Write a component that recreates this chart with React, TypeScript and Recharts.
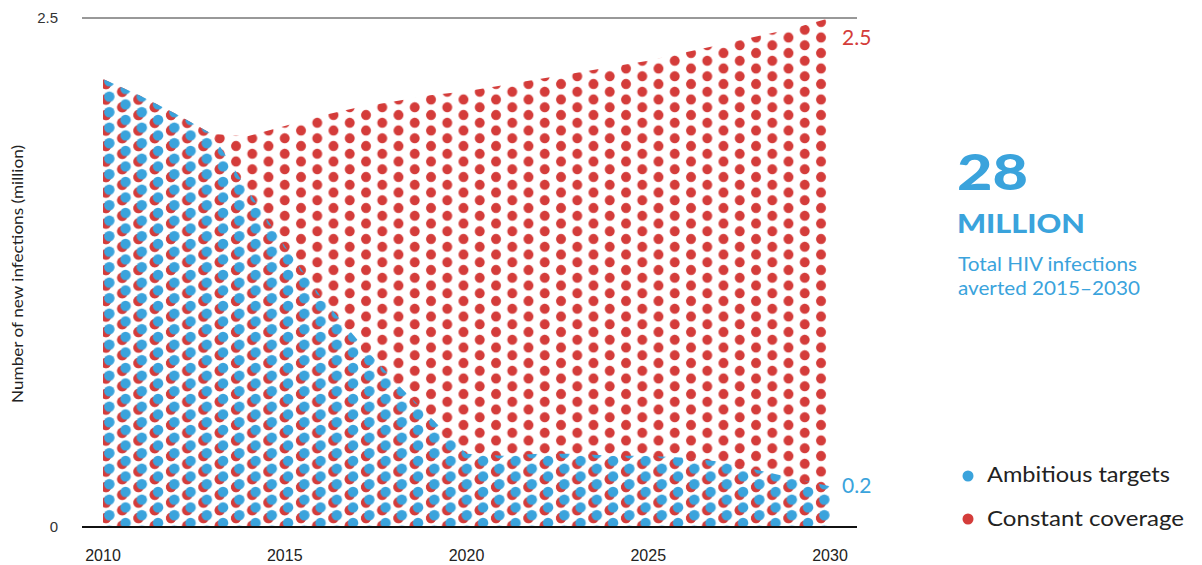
import React from 'react';
import { AreaChart, Area, XAxis, YAxis, ReferenceLine } from 'recharts';

const years = [2010, 2011, 2012, 2013, 2014, 2015, 2016, 2017, 2018, 2019, 2020, 2021, 2022, 2023, 2024, 2025, 2026, 2027, 2028, 2029, 2030];
const constantCoverage = [2.2, 2.12, 2.03, 1.93, 1.92, 1.97, 2.02, 2.06, 2.09, 2.12, 2.14, 2.17, 2.2, 2.23, 2.26, 2.29, 2.33, 2.37, 2.41, 2.45, 2.5];
const ambitiousTargets = [2.2, 2.12, 2.03, 1.93, 1.65, 1.38, 1.13, 0.92, 0.72, 0.54, 0.36, 0.35, 0.36, 0.36, 0.35, 0.35, 0.34, 0.32, 0.28, 0.24, 0.2];
const xTicks = [2010, 2015, 2020, 2025, 2030];
const yTicks = [0, 2.5];
const seriesNames = ['Ambitious targets', 'Constant coverage'];

const BLUE = '#3aa3dc';
const RED = '#d43c3a';

const data = years.map((y, i) => ({ year: y, constant: constantCoverage[i], ambitious: ambitiousTargets[i] }));
const last = years.length - 1;

const PW = 32.5;
const PH = 15.5;
const dots = [
  [8, 3.9],
  [8 + PW / 2, 3.9 + PH / 2],
];

function dotSet(dx: number, dy: number, r: number, color: string) {
  const out: any[] = [];
  dots.forEach(([cx, cy], i) => {
    [-1, 0, 1].forEach((ox) => {
      [-1, 0, 1].forEach((oy) => {
        out.push(<circle key={`${color}-${i}-${ox}-${oy}`} cx={cx + dx + ox * PW} cy={cy + dy + oy * PH} r={r} fill={color} />);
      });
    });
  });
  return out;
}

const makeEndLabel = (values: number[], color: string, dy: number) => (props: any) => {
  if (props.index !== last) return <g />;
  return (
    <text x={props.x + 12} y={props.y + dy} fill={color} fontSize={21} fontFamily="Lato, sans-serif" dominantBaseline="central">
      {values[last].toFixed(1)}
    </text>
  );
};

export default function App() {
  return (
    <div style={{ position: 'absolute', left: 0, top: 0, width: 1202, height: 565, background: '#fff' }}>
      <AreaChart width={1202} height={565} data={data} margin={{ top: 18, right: 345, left: 0, bottom: 8 }}>
        <defs>
          <pattern id="redDots" patternUnits="userSpaceOnUse" width={PW} height={PH} x={98} y={2.6}>
            {dotSet(0, 0, 5, RED)}
          </pattern>
          <pattern id="blueDots" patternUnits="userSpaceOnUse" width={PW} height={PH} x={98} y={2.6}>
            {dotSet(0, 0, 5, RED)}
            {dotSet(3.3, -2.8, 5.2, BLUE)}
          </pattern>
        </defs>
        <XAxis
          dataKey="year"
          type="number"
          domain={[2010, 2030]}
          ticks={xTicks}
          padding={{ left: 21, right: 27 }}
          axisLine={{ stroke: '#111', strokeWidth: 2 }}
          tickLine={false}
          tickSize={0}
          tickMargin={23}
          height={30}
          tick={{ fontSize: 16, fill: '#222', fontFamily: 'Liberation Sans, Arial, sans-serif' }}
        />
        <YAxis
          type="number"
          domain={[0, 2.5]}
          ticks={yTicks}
          width={82}
          axisLine={false}
          tickLine={false}
          tickSize={0}
          tickMargin={24}
          tickFormatter={(v: number) => (v === 0 ? '0' : String(v))}
          tick={{ fontSize: 15, fill: '#333', fontFamily: 'Liberation Sans, Arial, sans-serif' }}
        />
        <ReferenceLine y={2.5} stroke="#333" strokeWidth={1} ifOverflow="visible" />
        <Area
          type="linear"
          dataKey="constant"
          name={seriesNames[1]}
          stroke="none"
          fill="url(#redDots)"
          fillOpacity={1}
          isAnimationActive={false}
          dot={false}
          activeDot={false}
          label={makeEndLabel(constantCoverage, RED, 18)}
        />
        <Area
          type="linear"
          dataKey="ambitious"
          name={seriesNames[0]}
          stroke="none"
          fill="url(#blueDots)"
          fillOpacity={1}
          isAnimationActive={false}
          dot={false}
          activeDot={false}
          label={makeEndLabel(ambitiousTargets, BLUE, -2)}
        />
      </AreaChart>
      <svg width={1202} height={565} style={{ position: 'absolute', left: 0, top: 0, pointerEvents: 'none' }}>
        <text
          x={0}
          y={0}
          transform="translate(23,274) rotate(-90)"
          textAnchor="middle"
          fontSize={16}
          fill="#222"
          fontFamily="Lato, sans-serif"
          textLength={258}
          lengthAdjust="spacingAndGlyphs"
        >
          Number of new infections (million)
        </text>
        <text x={957} y={190} fontSize={50} fontWeight={900} fill={BLUE} fontFamily="Lato, sans-serif" textLength={71} lengthAdjust="spacingAndGlyphs">
          28
        </text>
        <text x={957} y={233} fontSize={27} fontWeight={900} fill={BLUE} fontFamily="Lato, sans-serif" textLength={128} lengthAdjust="spacingAndGlyphs">
          MILLION
        </text>
        <text x={958} y={271} fontSize={20} fill={BLUE} fontFamily="Lato, sans-serif" textLength={179} lengthAdjust="spacingAndGlyphs">
          Total HIV infections
        </text>
        <text x={958} y={295} fontSize={20} fill={BLUE} fontFamily="Lato, sans-serif" textLength={182} lengthAdjust="spacingAndGlyphs">
          averted 2015–2030
        </text>
        <circle cx={968} cy={476} r={5.5} fill={BLUE} />
        <text x={987} y={482} fontSize={22} fill="#222" fontFamily="Lato, sans-serif" textLength={183} lengthAdjust="spacingAndGlyphs">
          {seriesNames[0]}
        </text>
        <circle cx={968} cy={519} r={5.5} fill={RED} />
        <text x={987} y={526} fontSize={22} fill="#222" fontFamily="Lato, sans-serif" textLength={197} lengthAdjust="spacingAndGlyphs">
          {seriesNames[1]}
        </text>
      </svg>
    </div>
  );
}
